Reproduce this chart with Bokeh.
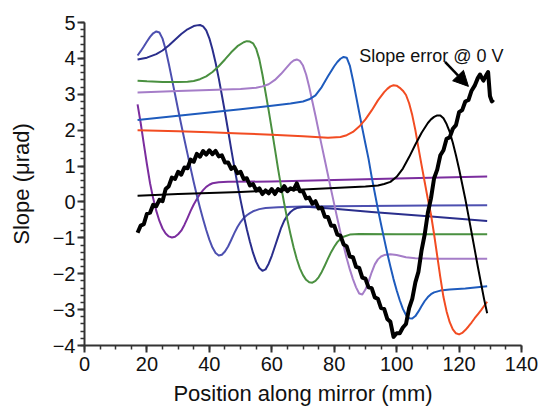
from bokeh.plotting import figure
from bokeh.models import SingleIntervalTicker, Arrow, NormalHead, Label
from bokeh.embed import file_html
from bokeh.resources import INLINE

# ---------------- data ----------------
x_purple = [17, 18, 19, 20, 21, 22, 23, 24, 25, 26, 27, 28, 29, 30, 31, 32, 33, 34, 35, 36,
            37, 38, 39, 40, 41, 43, 46, 60, 80, 100, 129]
y_purple = [2.72, 2.2, 1.62, 1.05, 0.52, 0.1, -0.25, -0.53, -0.74, -0.88, -0.96, -0.99, -0.97,
            -0.9, -0.8, -0.64, -0.45, -0.25, -0.07, 0.08, 0.22, 0.33, 0.42, 0.48, 0.52, 0.55,
            0.56, 0.57, 0.61, 0.65, 0.71]

x_slate = [17, 18, 19, 20, 21, 22, 23, 24, 25, 26, 27, 28, 29, 30, 31, 32, 33, 34, 35, 36, 37,
           38, 39, 40, 41, 42, 43, 44, 45, 46, 47, 48, 49, 50, 51, 52, 53, 54, 56, 58, 62, 70,
           90, 110, 129]
y_slate = [4.08, 4.2, 4.33, 4.47, 4.6, 4.7, 4.75, 4.72, 4.55, 4.25, 3.85, 3.43, 3.0, 2.57, 2.15,
           1.74, 1.34, 0.94, 0.55, 0.18, -0.16, -0.48, -0.78, -1.05, -1.27, -1.42, -1.49, -1.47,
           -1.38, -1.24, -1.06, -0.87, -0.7, -0.56, -0.45, -0.37, -0.31, -0.26, -0.2, -0.17,
           -0.15, -0.13, -0.11, -0.1, -0.09]

x_navy = [17, 20, 23, 25, 27, 29, 31, 33, 35, 36, 37, 38, 39, 40, 41, 42, 43, 44, 45, 46, 47,
          48, 49, 50, 51, 52, 53, 54, 55, 56, 57, 58, 59, 60, 61, 62, 63, 64, 65, 66, 67, 68,
          70, 72, 80, 92, 110, 129]
y_navy = [3.97, 4.02, 4.12, 4.22, 4.36, 4.52, 4.68, 4.81, 4.9, 4.92, 4.93, 4.89, 4.78, 4.56,
          4.25, 3.88, 3.45, 2.98, 2.5, 1.99, 1.47, 0.97, 0.5, 0.05, -0.37, -0.76, -1.11, -1.42,
          -1.67, -1.84, -1.92, -1.88, -1.72, -1.5, -1.24, -0.98, -0.72, -0.52, -0.38, -0.28,
          -0.21, -0.17, -0.14, -0.14, -0.19, -0.28, -0.4, -0.53]

x_green = [17, 20, 25, 30, 33, 35, 37, 39, 41, 43, 45, 47, 49, 51, 52, 53, 54, 55, 56, 57, 58,
           59, 60, 61, 62, 63, 64, 65, 66, 67, 68, 69, 70, 71, 72, 73, 74, 75, 76, 77, 78, 79,
           80, 81, 82, 83, 85, 88, 100, 129]
y_green = [3.38, 3.36, 3.34, 3.34, 3.35, 3.37, 3.42, 3.5, 3.62, 3.78, 3.97, 4.17, 4.34, 4.45,
           4.48, 4.47, 4.42, 4.27, 3.98, 3.55, 3.05, 2.55, 2.02, 1.48, 0.93, 0.42, -0.05, -0.5,
           -0.9, -1.27, -1.59, -1.85, -2.04, -2.17, -2.24, -2.25, -2.2, -2.1, -1.95, -1.77,
           -1.58, -1.4, -1.25, -1.12, -1.03, -0.97, -0.91, -0.89, -0.9, -0.9]

x_lilac = [17, 30, 40, 50, 55, 57, 59, 61, 63, 65, 66, 67, 68, 69, 70, 71, 72, 73, 74, 75, 76,
           77, 78, 79, 80, 81, 82, 83, 84, 85, 86, 87, 88, 89, 90, 91, 92, 93, 94, 95, 96, 98,
           100, 103, 106, 112, 129]
y_lilac = [3.05, 3.09, 3.12, 3.15, 3.18, 3.22, 3.28, 3.4, 3.57, 3.77, 3.87, 3.94, 3.97, 3.93,
           3.8, 3.55, 3.2, 2.8, 2.4, 1.98, 1.57, 1.16, 0.75, 0.34, -0.06, -0.46, -0.85, -1.22,
           -1.57, -1.88, -2.15, -2.38, -2.55, -2.58, -2.44, -2.22, -1.96, -1.74, -1.6, -1.52,
           -1.48, -1.46, -1.48, -1.54, -1.57, -1.58, -1.58]

x_blue = [17, 30, 40, 50, 60, 66, 70, 72, 74, 76, 78, 80, 81, 82, 83, 84, 85, 86, 87, 88, 89,
          90, 91, 92, 93, 94, 95, 96, 97, 98, 99, 100, 101, 102, 103, 104, 105, 106, 107, 108,
          109, 110, 111, 112, 114, 117, 122, 129]
y_blue = [2.28, 2.4, 2.49, 2.58, 2.68, 2.74, 2.8, 2.86, 2.97, 3.2, 3.5, 3.78, 3.9, 3.99, 4.04,
          4.02, 3.8, 3.4, 2.95, 2.5, 2.05, 1.62, 1.2, 0.7, 0.25, -0.2, -0.62, -1.03, -1.43,
          -1.8, -2.15, -2.46, -2.74, -2.98, -3.15, -3.24, -3.25, -3.18, -3.05, -2.9, -2.76,
          -2.65, -2.57, -2.52, -2.47, -2.44, -2.41, -2.35]

x_red = [17, 30, 40, 50, 60, 70, 78, 82, 84, 86, 88, 90, 92, 94, 96, 97, 98, 99, 100, 101, 102,
         103, 104, 105, 106, 107, 108, 109, 110, 111, 112, 113, 114, 115, 116, 117, 118, 119,
         120, 121, 122, 123, 124, 125, 126, 127, 128, 129]
y_red = [2.0, 1.97, 1.94, 1.91, 1.87, 1.83, 1.79, 1.81, 1.86, 1.95, 2.1, 2.3, 2.55, 2.83, 3.06,
         3.15, 3.22, 3.25, 3.24, 3.18, 3.1, 2.98, 2.75, 2.42, 2.0, 1.5, 1.02, 0.55, 0.08,
         -0.35, -0.9, -1.5, -2.1, -2.65, -3.05, -3.35, -3.55, -3.66, -3.69, -3.65, -3.57,
         -3.47, -3.36, -3.24, -3.13, -3.02, -2.9, -2.78]

x_black = [17, 30, 40, 50, 60, 70, 80, 90, 94, 96, 98, 100, 102, 104, 106, 108, 110, 111, 112,
           113, 114, 115, 116, 117, 118, 119, 120, 121, 122, 123, 124, 125, 126, 127, 128, 129]
y_black = [0.17, 0.22, 0.25, 0.28, 0.31, 0.35, 0.39, 0.43, 0.46, 0.5, 0.56, 0.7, 0.93, 1.25,
           1.6, 1.93, 2.2, 2.3, 2.37, 2.41, 2.41, 2.33, 2.17, 1.95, 1.65, 1.3, 0.92, 0.5, 0.08,
           -0.38, -0.85, -1.32, -1.8, -2.25, -2.7, -3.1]

# measured slope error at 0 V (noisy trace)
x_err = list(range(17, 126)) + [126, 126.7, 127.8, 128.5, 129.3, 129.9, 130.5, 131]
y_err = [-0.86, -0.66, -0.62, -0.33, -0.30, -0.08, -0.12, 0.06, 0.02, 0.36,
         0.44, 0.68, 0.64, 0.84, 0.76, 0.96, 0.94, 1.18, 1.12, 1.34,
         1.26, 1.42, 1.32, 1.44, 1.33, 1.42, 1.27, 1.30, 1.10, 1.10,
         0.92, 0.98, 0.80, 0.84, 0.64, 0.66, 0.46, 0.50, 0.32, 0.38,
         0.22, 0.32, 0.24, 0.36, 0.22, 0.36, 0.30, 0.44, 0.30, 0.38,
         0.34, 0.52, 0.30, 0.30, 0.10, 0.12, -0.05, 0.02, -0.18, -0.16,
         -0.41, -0.42, -0.66, -0.66, -0.91, -0.94, -1.18, -1.24, -1.52, -1.54,
         -1.81, -1.84, -2.11, -2.14, -2.38, -2.40, -2.66, -2.70, -2.96, -2.98,
         -3.26, -3.34, -3.76, -3.66, -3.66, -3.50, -3.40, -2.96, -2.70, -2.24,
         -1.94, -1.34, -0.90, -0.30, 0.10, 0.66, 0.90, 1.30, 1.44, 1.76,
         1.80, 2.04, 2.14, 2.50, 2.56, 2.80, 2.84, 3.10, 3.24,
         3.45, 3.55, 3.38, 3.50, 3.62, 2.95, 2.80, 2.85]

annotation_text = "Slope error @ 0 V"
x_label = "Position along mirror (mm)"
y_label = "Slope (μrad)"

# ---------------- figure ----------------
FONT = "Liberation Sans"
AX = "#333333"

p = figure(width=539, height=409, x_range=(0, 140), y_range=(-4, 5),
           output_backend="svg", toolbar_location=None,
           min_border_left=84, min_border_right=18, min_border_top=22, min_border_bottom=64)
p.xgrid.visible = False
p.ygrid.visible = False
p.outline_line_color = None
p.background_fill_color = "white"
p.border_fill_color = "white"

p.xaxis.ticker = SingleIntervalTicker(interval=20, num_minor_ticks=4)
p.yaxis.ticker = SingleIntervalTicker(interval=1, num_minor_ticks=5)
for ax in (p.xaxis[0], p.yaxis[0]):
    ax.axis_line_width = 2
    ax.axis_line_color = AX
    ax.major_tick_line_width = 2
    ax.major_tick_line_color = AX
    ax.minor_tick_line_width = 1.5
    ax.minor_tick_line_color = AX
    ax.major_tick_out = 7
    ax.major_tick_in = 0
    ax.minor_tick_out = 4
    ax.minor_tick_in = 0
    ax.major_label_text_font = FONT
    ax.major_label_text_font_size = "20px"
    ax.major_label_text_color = "#111111"
    ax.axis_label_text_font = FONT
    ax.axis_label_text_font_size = "22px"
    ax.axis_label_text_font_style = "normal"
    ax.axis_label_text_color = "#111111"

p.xaxis.axis_label = x_label
p.yaxis.axis_label = y_label
p.yaxis.major_label_standoff = 2
p.yaxis.axis_label_standoff = 16
p.xaxis.major_label_standoff = 4
p.xaxis.axis_label_standoff = 7

series = [
    (x_purple, y_purple, "#7b2d9e"),
    (x_slate, y_slate, "#4d50b0"),
    (x_navy, y_navy, "#2a2e8c"),
    (x_green, y_green, "#4a9040"),
    (x_lilac, y_lilac, "#a57dc8"),
    (x_blue, y_blue, "#1e5bbd"),
    (x_red, y_red, "#f24c22"),
    (x_black, y_black, "#000000"),
]
for xs, ys, c in series:
    p.line(xs, ys, line_color=c, line_width=2, line_join="round")

p.line(x_err, y_err, line_color="#000000", line_width=4, line_join="round")

p.add_layout(Label(x=88, y=4.06, text=annotation_text, text_baseline="middle",
                   text_font=FONT, text_font_size="18px", text_color="#111111"))
p.add_layout(Arrow(end=NormalHead(size=15, fill_color="black", line_color="black"),
                   x_start=115.5, y_start=3.9, x_end=123, y_end=3.22,
                   line_color="black", line_width=2.5))

open("out.html", "w").write(file_html(p, INLINE))
